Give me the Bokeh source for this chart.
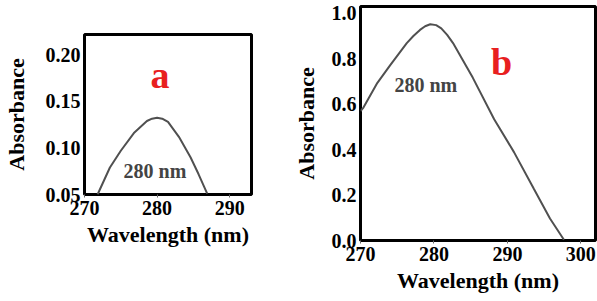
from bokeh.plotting import figure
from bokeh.layouts import row, column
from bokeh.models import Range1d, FixedTicker, Label
from bokeh.embed import file_html
from bokeh.resources import INLINE

# Panel a data
wl_a = [271.8, 273.5, 275.0, 276.8, 278.6, 279.3, 280.0, 280.7, 281.5, 283.0, 284.6, 285.7, 286.9]
abs_a = [0.050, 0.079, 0.097, 0.116, 0.129, 0.1315, 0.1325, 0.1315, 0.128, 0.112, 0.090, 0.072, 0.051]
# Panel b data
wl_b = [270.0, 270.4, 272.3, 274.1, 276.3, 277.2, 278.1, 278.8, 279.5, 280.3, 281.0, 281.8,
        282.6, 283.9, 285.3, 288.2, 290.9, 293.6, 295.8, 297.7]
abs_b = [0.570, 0.585, 0.694, 0.774, 0.869, 0.900, 0.927, 0.943, 0.952, 0.948, 0.934, 0.905,
         0.869, 0.796, 0.716, 0.534, 0.389, 0.228, 0.097, 0.003]

xticks_a = [270, 280, 290]
yticks_a = [0.05, 0.10, 0.15, 0.20]
xticks_b = [270, 280, 290, 300]
yticks_b = [0.0, 0.2, 0.4, 0.6, 0.8, 1.0]

FONT = "Liberation Serif"
LINE_COLOR = "#505050"
RED = "#e8201f"


def style(p, xticks, yticks, xfmt, yfmt, ylabel_gap):
    p.grid.visible = False
    p.outline_line_color = "black"
    p.outline_line_width = 3
    p.background_fill_color = "white"
    p.border_fill_color = "white"
    for ax in (p.xaxis[0], p.yaxis[0]):
        ax.axis_line_color = None
        ax.major_tick_line_color = None
        ax.minor_tick_line_color = None
        ax.major_label_text_font = FONT
        ax.major_label_text_font_style = "bold"
        ax.major_label_text_font_size = "20px"
        ax.major_label_text_color = "black"
        ax.axis_label_text_font = FONT
        ax.axis_label_text_font_style = "bold"
        ax.axis_label_text_font_size = "22px"
        ax.axis_label_text_color = "black"
    p.xaxis[0].major_tick_line_color = "#666666"
    p.xaxis[0].major_tick_in = 0
    p.xaxis[0].major_tick_out = 3
    p.xaxis[0].major_label_standoff = 3
    p.xaxis[0].axis_label_standoff = 4
    p.yaxis[0].major_tick_in = 0
    p.yaxis[0].major_tick_out = 0
    p.yaxis[0].major_label_standoff = 4
    p.yaxis[0].axis_label_standoff = ylabel_gap
    p.xaxis[0].ticker = FixedTicker(ticks=xticks)
    p.yaxis[0].ticker = FixedTicker(ticks=yticks)
    p.xaxis[0].major_label_overrides = {t: xfmt.format(t) for t in xticks}
    p.yaxis[0].major_label_overrides = {t: yfmt.format(t) for t in yticks}
    p.xaxis[0].axis_label = "Wavelength (nm)"
    p.yaxis[0].axis_label = "Absorbance"


pa = figure(width=290, height=301, output_backend="svg", toolbar_location=None,
            x_range=Range1d(270, 293), y_range=Range1d(0.05, 0.222),
            min_border_left=79, min_border_right=39, min_border_top=34, min_border_bottom=107)
style(pa, xticks_a, yticks_a, "{:d}", "{:.2f}", 14)
pa.line(wl_a, abs_a, line_color=LINE_COLOR, line_width=2)
pa.add_layout(Label(x=279.7, y=0.0758, text="280 nm", text_font=FONT, text_font_style="bold",
                    text_font_size="20px", text_align="center", text_baseline="middle"))
pa.add_layout(Label(x=280.4, y=0.178, text="a", text_font=FONT, text_font_style="bold",
                    text_font_size="38px", text_color=RED, text_align="center",
                    text_baseline="alphabetic"))

pb = figure(width=307, height=301, output_backend="svg", toolbar_location=None,
            x_range=Range1d(270, 302), y_range=Range1d(0.0, 1.03),
            min_border_left=68, min_border_right=2, min_border_top=6, min_border_bottom=61)
style(pb, xticks_b, yticks_b, "{:d}", "{:.1f}", 10)
pb.line(wl_b, abs_b, line_color=LINE_COLOR, line_width=2)
pb.add_layout(Label(x=278.9, y=0.686, text="280 nm", text_font=FONT, text_font_style="bold",
                    text_font_size="20px", text_align="center", text_baseline="middle"))
pb.add_layout(Label(x=289.2, y=0.786, text="b", text_font=FONT, text_font_style="bold",
                    text_font_size="38px", text_color=RED, text_align="center",
                    text_baseline="alphabetic"))

layout = row(column(pa), column(pb), spacing=0)
open("out.html", "w").write(file_html(layout, INLINE))
